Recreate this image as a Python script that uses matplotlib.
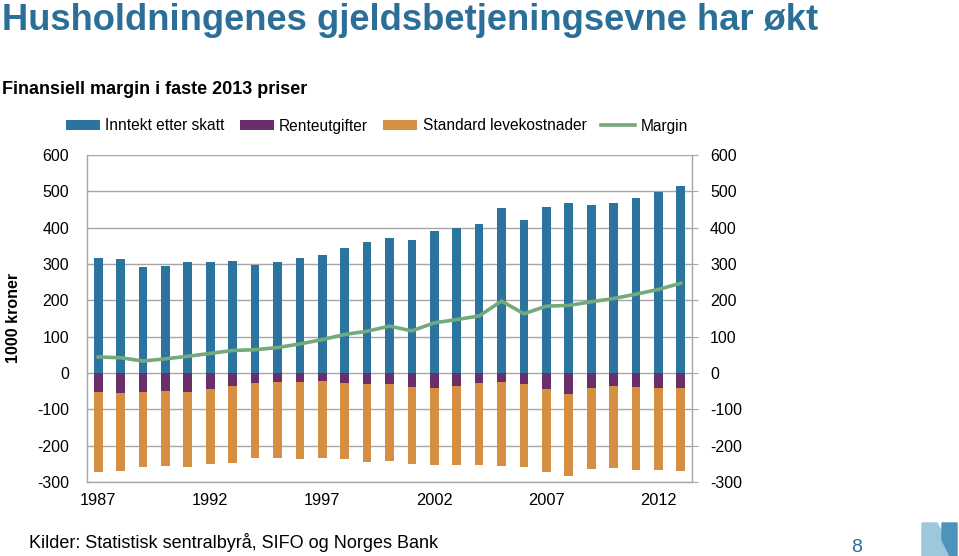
import matplotlib.pyplot as plt
import numpy as np
from matplotlib.patches import Polygon

plt.rcParams["font.family"] = ["Liberation Sans", "DejaVu Sans"]
plt.rcParams["axes.unicode_minus"] = False

# Data (1000 kroner, faste 2013 priser)
years = list(range(1987, 2014))
inntekt = [316, 313, 291, 295, 306, 305, 309, 298, 305, 317, 325, 344, 360, 371,
           367, 391, 399, 411, 454, 421, 456, 469, 462, 468, 483, 498, 516]
renteutgifter = [-51, -55, -51, -49, -52, -45, -36, -27, -25, -24, -21, -27, -31, -30,
                 -38, -40, -35, -27, -26, -31, -44, -57, -40, -36, -39, -41, -42]
levekostnader = [-221, -216, -208, -207, -208, -206, -211, -207, -210, -213, -212, -211,
                 -214, -212, -212, -213, -217, -227, -230, -228, -228, -226, -225, -226,
                 -228, -227, -227]
margin = [44, 42, 33, 39, 46, 54, 62, 64, 70, 80, 92, 106, 115, 129, 116, 138, 147,
          157, 198, 163, 184, 186, 196, 205, 217, 230, 247]
tick_years = [1987, 1992, 1997, 2002, 2007, 2012]

c_blue = "#2A749E"
c_purple = "#6A2E6A"
c_orange = "#D68F42"
c_green = "#74A97C"
c_title = "#2B6F98"
c_grid = "#A6A6A6"

fig = plt.figure(figsize=(9.59, 5.56), dpi=100)
ax = fig.add_axes([87 / 959, 1 - 482 / 556, 605 / 959, 327 / 556])

x = np.arange(len(years))
w = 0.39
ax.bar(x, inntekt, width=w, color=c_blue, zorder=2, label="Inntekt etter skatt")
ax.bar(x, renteutgifter, width=w, color=c_purple, zorder=2, label="Renteutgifter")
ax.bar(x, levekostnader, width=w, bottom=renteutgifter, color=c_orange, zorder=2,
       label="Standard levekostnader")
ax.plot(x, margin, color=c_green, lw=2.6, zorder=3, label="Margin")

ax.set_xlim(-0.5, len(years) - 0.5)
ax.set_ylim(-300, 600)
ax.set_yticks(range(-300, 601, 100))
ax.set_xticks([years.index(y) for y in tick_years])
ax.set_xticklabels([str(y) for y in tick_years])
ax.grid(axis="y", color=c_grid, lw=1, zorder=0)
ax.tick_params(axis="x", length=0, pad=8, labelsize=11.8)
ax.tick_params(axis="y", length=0, pad=13, labelsize=11.5)
ax.spines["top"].set_visible(False)
for s in ["left", "bottom", "right"]:
    ax.spines[s].set_color(c_grid)
    ax.spines[s].set_linewidth(1)

ax2 = ax.twinx()
ax2.set_ylim(-300, 600)
ax2.set_yticks(range(-300, 601, 100))
ax2.tick_params(axis="y", length=4, color=c_grid, pad=9, labelsize=11.5)
for s in ax2.spines.values():
    s.set_visible(False)

fig.text(14 / 959, 1 - 318 / 556, "1000 kroner", rotation=90, fontsize=11.5,
         fontweight="bold", ha="center", va="center")

handles, labels = ax.get_legend_handles_labels()
order = [1, 2, 3, 0]
fig.legend([handles[i] for i in order], [labels[i] for i in order],
           loc="center", bbox_to_anchor=(377 / 959, 1 - 126 / 556), ncol=4,
           frameon=False, fontsize=11.2, handlelength=2.2, handleheight=0.55,
           handletextpad=0.35, columnspacing=0.95)

fig.text(2 / 959, 1 - 20 / 556, "Husholdningenes gjeldsbetjeningsevne har økt",
         fontsize=26.2, fontweight="bold", color=c_title, va="center")
fig.text(2 / 959, 1 - 89 / 556, "Finansiell margin i faste 2013 priser",
         fontsize=13, fontweight="bold", va="center")
fig.text(29 / 959, 1 - 543 / 556, "Kilder: Statistisk sentralbyrå, SIFO og Norges Bank",
         fontsize=13, va="center")
fig.text(857 / 959, 1 - 547 / 556, "8", fontsize=14, color=c_title, va="center",
         ha="center")

# logo
def px(pts):
    return [(a / 959, 1 - b / 556) for a, b in pts]

fig.patches.append(Polygon(px([(922, 523), (937, 523), (955, 556), (922, 556)]),
                           closed=True, color="#9CC8DE", transform=fig.transFigure))
fig.patches.append(Polygon(px([(942, 523), (957, 523), (957, 556), (950, 556), (942, 540)]),
                           closed=True, color="#4E93BC", transform=fig.transFigure))

fig.savefig("out.png", dpi=100)
